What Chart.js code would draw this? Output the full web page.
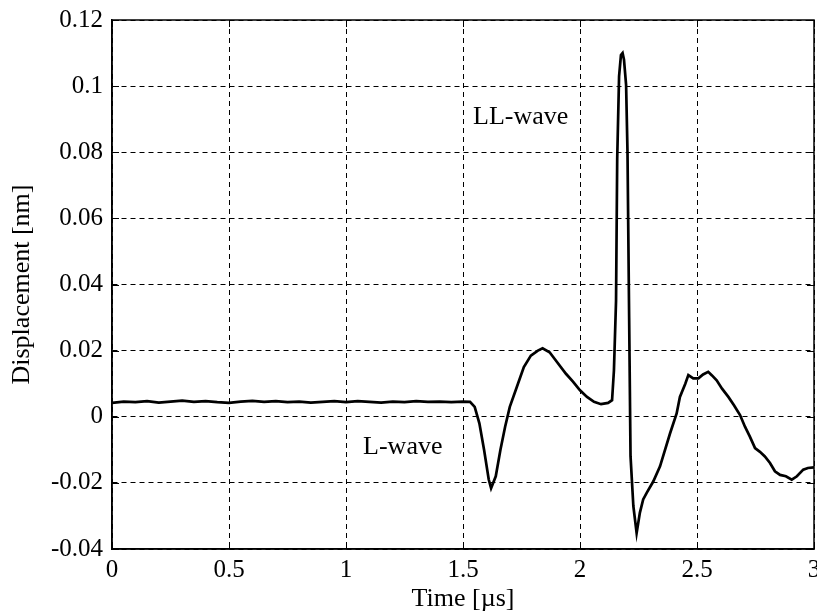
<!DOCTYPE html>
<html>
<head>
<meta charset="utf-8">
<script src="https://cdn.jsdelivr.net/npm/chart.js@4.4.1/dist/chart.umd.min.js"></script>
<style>
html,body{margin:0;padding:0;background:#fff;}
#wrap{width:817px;height:615px;}
</style>
</head>
<body>
<div id="wrap"><canvas id="c" width="817" height="615"></canvas></div>
<script>
// ---- data ----
const timeUs = [
  0.00,0.05,0.10,0.15,0.20,0.25,0.30,0.35,0.40,0.45,0.50,0.55,0.60,0.65,0.70,0.75,
  0.80,0.85,0.90,0.95,1.00,1.05,1.10,1.15,1.20,1.25,1.30,1.35,1.40,1.45,1.50,1.53,
  1.55,1.57,1.59,1.61,1.62,1.64,1.66,1.68,1.70,1.73,1.76,1.79,1.82,1.84,1.87,1.90,
  1.94,1.97,2.00,2.03,2.06,2.09,2.12,2.137,2.145,2.154,2.159,2.167,2.175,2.182,2.188,
  2.197,2.203,2.210,2.216,2.228,2.242,2.256,2.270,2.285,2.313,2.342,2.385,2.413,2.427,
  2.450,2.463,2.484,2.506,2.526,2.548,2.564,2.584,2.607,2.634,2.658,2.684,2.705,2.726,
  2.748,2.769,2.790,2.812,2.833,2.855,2.880,2.905,2.927,2.954,2.974,3.000
];
const displacementNm = [
  0.0042,0.0046,0.0044,0.0047,0.0043,0.0046,0.0049,0.0045,0.0047,0.0044,0.0042,0.0046,0.0048,0.0045,0.0047,0.0044,
  0.0046,0.0043,0.0045,0.0047,0.0044,0.0047,0.0045,0.0043,0.0046,0.0044,0.0047,0.0045,0.0046,0.0044,0.0046,0.0045,
  0.0030,-0.0020,-0.0100,-0.0190,-0.0216,-0.0180,-0.0100,-0.0030,0.0030,0.0090,0.0150,0.0185,0.0200,0.0207,0.0195,0.0167,
  0.0130,0.0106,0.0080,0.0060,0.0045,0.0038,0.0042,0.0050,0.0140,0.0350,0.0780,0.1030,0.1094,0.1100,0.1080,
  0.1004,0.0800,0.0300,-0.0120,-0.0270,-0.0352,-0.0290,-0.0250,-0.0230,-0.0196,-0.0150,-0.0050,0.0010,0.0060,
  0.0100,0.0126,0.0116,0.0116,0.0128,0.0136,0.0125,0.0110,0.0085,0.0060,0.0035,0.0005,-0.0030,-0.0060,
  -0.0095,-0.0106,-0.0120,-0.0140,-0.0165,-0.0176,-0.0180,-0.0190,-0.0180,-0.0160,-0.0155,-0.0153
];
const xTickValues = [0,0.5,1,1.5,2,2.5,3];
const xTickLabels = ['0','0.5','1','1.5','2','2.5','3'];
const yTickValues = [-0.04,-0.02,0,0.02,0.04,0.06,0.08,0.1,0.12];
const yTickLabels = ['-0.04','-0.02','0','0.02','0.04','0.06','0.08','0.1','0.12'];
const annotationTexts = ['LL-wave','L-wave'];
const annotationX = [1.543, 1.073];
const annotationY = [0.0907, -0.0091];

const points = timeUs.map((t,i)=>({x:t,y:displacementNm[i]}));
const FONT = '"Liberation Serif", "Times New Roman", serif';

const boxPlugin = {
  id:'boxPlugin',
  afterDraw(chart){
    const {ctx, chartArea:a, scales:{x,y}} = chart;
    ctx.save();
    ctx.strokeStyle='#000'; ctx.lineWidth=1; ctx.setLineDash([]);
    const L=7;
    ctx.beginPath();
    xTickValues.forEach(v=>{
      const px=Math.round(x.getPixelForValue(v))+0.5;
      ctx.moveTo(px,a.bottom); ctx.lineTo(px,a.bottom-L);
      ctx.moveTo(px,a.top); ctx.lineTo(px,a.top+L);
    });
    yTickValues.forEach(v=>{
      const py=Math.round(y.getPixelForValue(v))+0.5;
      ctx.moveTo(a.left,py); ctx.lineTo(a.left+L,py);
      ctx.moveTo(a.right,py); ctx.lineTo(a.right-L,py);
    });
    ctx.stroke();
    ctx.lineWidth=1.5;
    ctx.strokeRect(a.left,a.top,a.right-a.left,a.bottom-a.top);
    ctx.fillStyle='#000';
    ctx.font='26px '+FONT;
    ctx.textAlign='left'; ctx.textBaseline='middle';
    annotationTexts.forEach((s,i)=>{
      ctx.fillText(s, x.getPixelForValue(annotationX[i]), y.getPixelForValue(annotationY[i]));
    });
    ctx.restore();
  }
};

new Chart(document.getElementById('c'),{
  type:'line',
  data:{datasets:[{
    data:points,
    borderColor:'#000',
    borderWidth:2.7,
    pointRadius:0,
    tension:0,
    fill:false
  }]},
  options:{
    responsive:false,
    animation:false,
    events:[],
    layout:{padding:{left:0,right:3,top:20,bottom:0}},
    plugins:{legend:{display:false},tooltip:{enabled:false}},
    scales:{
      x:{
        type:'linear', min:0, max:3,
        afterBuildTicks(s){ s.ticks = xTickValues.map(v=>({value:v})); },
        afterFit(s){ s.height=66; s.paddingLeft=0; s.paddingRight=0; },
        ticks:{
          autoSkip:false, maxRotation:0, padding:6, color:'#000',
          font:{family:FONT,size:25},
          callback:(v,i)=>xTickLabels[i]
        },
        grid:{color:'#000', lineWidth:1, drawTicks:false},
        border:{display:true, color:'#000', width:1.5, dash:[5,4]},
        title:{display:true, text:'Time [µs]', color:'#000',
          font:{family:FONT,size:26,lineHeight:1.2}, padding:{top:0,bottom:0}}
      },
      y:{
        type:'linear', min:-0.04, max:0.12,
        afterBuildTicks(s){ s.ticks = yTickValues.map(v=>({value:v})); },
        afterFit(s){ s.width=112; s.paddingTop=0; s.paddingBottom=0; },
        ticks:{
          autoSkip:false, padding:9, color:'#000',
          font:{family:FONT,size:25},
          callback:(v,i)=>yTickLabels[i]
        },
        grid:{color:'#000', lineWidth:1, drawTicks:false},
        border:{display:true, color:'#000', width:1.5, dash:[5,4]},
        title:{display:true, text:'Displacement [nm]', color:'#000',
          font:{family:FONT,size:26,lineHeight:1.2}, padding:{top:7,bottom:0}}
      }
    }
  },
  plugins:[boxPlugin]
});
</script>
</body>
</html>
